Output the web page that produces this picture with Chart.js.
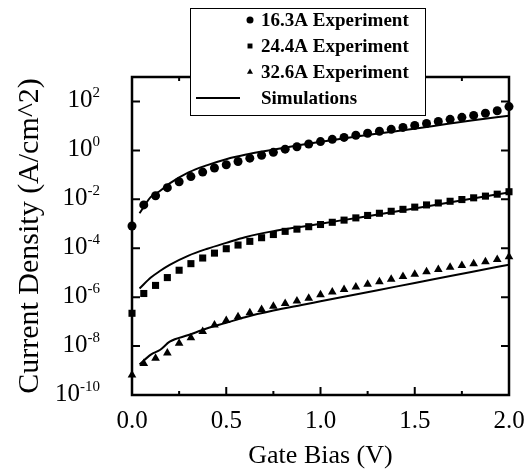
<!DOCTYPE html>
<html>
<head>
<meta charset="utf-8">
<script src="https://cdn.jsdelivr.net/npm/chart.js@4.4.1/dist/chart.umd.min.js"></script>
<style>
  html, body { margin: 0; padding: 0; background: #fff; }
  canvas { display: block; }
</style>
</head>
<body>
<canvas id="ivChart" width="527" height="469"></canvas>
<script>
// Gate bias sweep (V) for the measured points
const biasV = [0, 0.0625, 0.125, 0.1875, 0.25, 0.3125, 0.375, 0.4375, 0.5, 0.5625, 0.625,
    0.6875, 0.75, 0.8125, 0.875, 0.9375, 1.0, 1.0625, 1.125, 1.1875, 1.25, 1.3125, 1.375,
    1.4375, 1.5, 1.5625, 1.625, 1.6875, 1.75, 1.8125, 1.875, 1.9375, 2.0];

// Measured current density (A/cm^2)
const exp163 = [8.1e-4, 5.9e-3, 1.4e-2, 3.0e-2, 5.2e-2, 8.5e-2, 0.13, 0.19, 0.26, 0.35, 0.48,
    0.63, 0.83, 1.12, 1.41, 1.82, 2.29, 2.82, 3.39, 4.17, 5.01, 6.03, 7.24,
    8.71, 10.5, 12.6, 15.1, 18.6, 22.4, 26.9, 33.1, 41.7, 61.7];
const exp244 = [2.19e-7, 1.41e-6, 3.02e-6, 6.31e-6, 1.26e-5, 2.34e-5, 3.98e-5, 6.31e-5, 9.55e-5, 1.35e-4, 1.91e-4,
    2.69e-4, 3.63e-4, 4.90e-4, 6.03e-4, 7.59e-4, 9.33e-4, 1.15e-3, 1.41e-3, 1.74e-3, 2.19e-3, 2.69e-3, 3.24e-3,
    3.89e-3, 4.79e-3, 5.89e-3, 7.08e-3, 8.32e-3, 9.77e-3, 1.15e-2, 1.35e-2, 1.62e-2, 2.04e-2];
const exp326 = [6.6e-10, 1.95e-9, 3.16e-9, 5.25e-9, 1.29e-8, 2.19e-8, 3.98e-8, 7.24e-8, 1.10e-7, 1.58e-7, 2.29e-7,
    3.16e-7, 4.27e-7, 5.50e-7, 6.92e-7, 9.12e-7, 1.26e-6, 1.62e-6, 2.04e-6, 2.63e-6, 3.39e-6, 4.27e-6, 5.37e-6,
    6.92e-6, 8.71e-6, 1.10e-5, 1.35e-5, 1.66e-5, 1.95e-5, 2.34e-5, 2.82e-5, 3.47e-5, 4.47e-5];

// Simulated curves
const simV = [0.04, 0.1, 0.15, 0.2, 0.3, 0.4, 0.5, 0.6, 0.75, 0.9, 1.0, 1.2, 1.4, 1.6, 1.8, 2.0];
const sim163 = [2.69e-3, 1.26e-2, 2.24e-2, 4.47e-2, 0.126, 0.251, 0.437, 0.661, 1.07, 1.70, 2.24, 3.80, 6.03, 10.0, 16.6, 26.3];
const sim244 = [2.24e-6, 6.31e-6, 1.20e-5, 2.09e-5, 5.01e-5, 9.55e-5, 1.66e-4, 2.82e-4, 5.01e-4, 7.59e-4, 1.0e-3, 1.78e-3, 3.16e-3, 5.75e-3, 1.05e-2, 1.91e-2];
const sim326 = [1.78e-9, 4.47e-9, 7.08e-9, 1.51e-8, 2.82e-8, 5.37e-8, 8.91e-8, 1.51e-7, 2.82e-7, 4.79e-7, 6.76e-7, 1.35e-6, 2.69e-6, 5.37e-6, 1.07e-5, 2.14e-5];

// Axis ticks
const xTicks = [0, 0.5, 1.0, 1.5, 2.0];
const xMinorTicks = [0.25, 0.75, 1.25, 1.75];
const yTickPowers = [-10, -8, -6, -4, -2, 0, 2];

const legendLabels = ['16.3A Experiment', '24.4A Experiment', '32.6A Experiment', 'Simulations'];

const SERIF = '"Liberation Serif", "Times New Roman", serif';

function pts(xs, ys) {
    return xs.map((x, i) => ({ x: x, y: ys[i] }));
}

function markerSet(label, ys, style, radius) {
    return {
        label: label,
        data: pts(biasV, ys),
        showLine: false,
        pointStyle: style,
        pointRadius: radius,
        pointBackgroundColor: '#000',
        pointBorderColor: '#000',
        pointBorderWidth: 0,
        clip: false
    };
}

function simSet(ys) {
    return {
        label: 'Simulations',
        data: pts(simV, ys),
        showLine: true,
        borderColor: '#000',
        borderWidth: 2,
        pointRadius: 0,
        cubicInterpolationMode: 'monotone',
        fill: false
    };
}

// frame with inward ticks + y labels with superscripts
const framePlugin = {
    id: 'frame',
    beforeDatasetsDraw(chart) {
        const ctx = chart.ctx;
        const a = chart.chartArea;
        const xs = chart.scales.x;
        const ys = chart.scales.y;
        ctx.save();
        ctx.strokeStyle = '#000';
        ctx.lineWidth = 2.5;
        ctx.strokeRect(a.left, a.top, a.right - a.left, a.bottom - a.top);

        ctx.lineWidth = 2;
        ctx.beginPath();
        xTicks.forEach(v => {
            const px = xs.getPixelForValue(v);
            ctx.moveTo(px, a.bottom); ctx.lineTo(px, a.bottom - 8);
            ctx.moveTo(px, a.top); ctx.lineTo(px, a.top + 8);
        });
        xMinorTicks.forEach(v => {
            const px = xs.getPixelForValue(v);
            ctx.moveTo(px, a.bottom); ctx.lineTo(px, a.bottom - 4);
            ctx.moveTo(px, a.top); ctx.lineTo(px, a.top + 4);
        });
        yTickPowers.forEach(p => {
            const py = ys.getPixelForValue(Math.pow(10, p));
            ctx.moveTo(a.left, py); ctx.lineTo(a.left + 8, py);
            ctx.moveTo(a.right, py); ctx.lineTo(a.right - 8, py);
        });
        ctx.stroke();

        // y tick labels: 10 with superscript power
        ctx.fillStyle = '#000';
        ctx.textAlign = 'left';
        ctx.textBaseline = 'alphabetic';
        const rightEdge = a.left - 32;
        yTickPowers.forEach(p => {
            const py = ys.getPixelForValue(Math.pow(10, p));
            const sup = String(p);
            ctx.font = '15px ' + SERIF;
            const sw = ctx.measureText(sup).width;
            ctx.fillText(sup, rightEdge - sw, py - 4);
            ctx.font = '25px ' + SERIF;
            const bw = ctx.measureText('10').width;
            ctx.fillText('10', rightEdge - sw - bw, py + 6);
        });
        ctx.restore();
    },
    afterDraw(chart) {
        const ctx = chart.ctx;
        const box = { left: 190, top: 8, right: 425, bottom: 115 };
        ctx.save();
        ctx.fillStyle = '#fff';
        ctx.fillRect(box.left, box.top, box.right - box.left, box.bottom - box.top);
        ctx.strokeStyle = '#000';
        ctx.lineWidth = 1;
        ctx.strokeRect(box.left + 0.5, box.top + 0.5, box.right - box.left, box.bottom - box.top);

        const rowY = [20, 46, 72, 98];
        const styles = ['circle', 'rect', 'triangle'];
        ctx.fillStyle = '#000';
        styles.forEach((s, i) => {
            Chart.helpers.drawPoint(ctx, { pointStyle: s, radius: 3.5, borderWidth: 0 }, 250, rowY[i]);
        });
        ctx.strokeStyle = '#000';
        ctx.lineWidth = 2;
        ctx.beginPath();
        ctx.moveTo(196, rowY[3]); ctx.lineTo(240, rowY[3]);
        ctx.stroke();

        ctx.font = 'bold 19px ' + SERIF;
        ctx.textAlign = 'left';
        ctx.textBaseline = 'middle';
        legendLabels.forEach((t, i) => ctx.fillText(t, 261, rowY[i] + 1));
        ctx.restore();
    }
};

function initChart() {
    const ctx = document.getElementById('ivChart').getContext('2d');
    new Chart(ctx, {
        type: 'scatter',
        data: {
            datasets: [
                markerSet('16.3A Experiment', exp163, 'circle', 4.5),
                markerSet('24.4A Experiment', exp244, 'rect', 5),
                markerSet('32.6A Experiment', exp326, 'triangle', 5),
                simSet(sim163),
                simSet(sim244),
                simSet(sim326)
            ]
        },
        options: {
            responsive: false,
            devicePixelRatio: 1,
            animation: false,
            layout: { padding: { left: 0, top: 77, right: 18, bottom: 0 } },
            plugins: {
                legend: { display: false },
                tooltip: { enabled: false }
            },
            scales: {
                x: {
                    type: 'linear',
                    min: 0,
                    max: 2,
                    afterBuildTicks: scale => { scale.ticks = xTicks.map(v => ({ value: v })); },
                    afterFit: scale => {
                        scale.height = 74;
                        scale.paddingLeft = 0;
                        scale.paddingRight = 0;
                    },
                    grid: { display: false, drawTicks: false },
                    border: { display: false },
                    ticks: {
                        color: '#000',
                        padding: 14,
                        maxRotation: 0,
                        font: { family: SERIF, size: 25, lineHeight: 1 },
                        callback: v => Number(v).toFixed(1)
                    },
                    title: {
                        display: true,
                        text: 'Gate Bias (V)',
                        color: '#000',
                        font: { family: SERIF, size: 26, lineHeight: 1 },
                        padding: { top: 0, bottom: 0 }
                    }
                },
                y: {
                    type: 'logarithmic',
                    min: 1e-10,
                    max: 1e3,
                    afterFit: scale => { scale.width = 132; },
                    grid: { display: false, drawTicks: false },
                    border: { display: false },
                    ticks: { display: false },
                    title: {
                        display: true,
                        text: 'Current Density (A/cm^2)',
                        color: '#000',
                        font: { family: SERIF, size: 30, lineHeight: 1 },
                        padding: { top: 15, bottom: 0 }
                    }
                }
            }
        },
        plugins: [framePlugin]
    });
}

window.onload = () => {
    initChart();
};
</script>
</body>
</html>
